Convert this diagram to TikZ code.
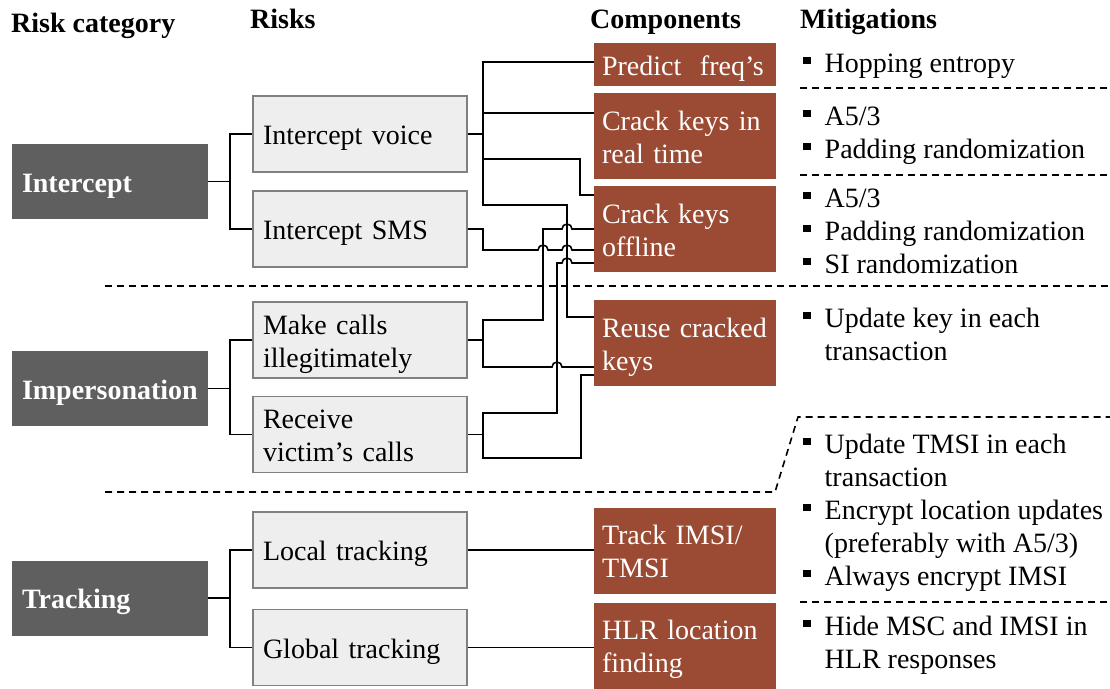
\documentclass[tikz,border=0pt]{standalone}
\usepackage{fontspec}
\setmainfont{Liberation Serif}
\usetikzlibrary{positioning}
\definecolor{catgray}{HTML}{5F5F5F}
\definecolor{riskfill}{HTML}{EEEEEE}
\definecolor{riskline}{HTML}{808080}
\definecolor{comprust}{HTML}{9B4B33}
\newcommand{\dgfont}{\fontsize{28}{33}\selectfont}
\newcommand{\sqb}{\rule[8pt]{7.5pt}{7.5pt}}
\tikzset{
  headtext/.style={
    anchor=base west,
    inner sep=0pt,
    font=\dgfont\bfseries
  },
  catbox/.style={
    fill=catgray,
    text=white,
    align=left,
    text width=176pt,
    minimum height=75pt,
    inner xsep=10pt,
    inner ysep=0pt,
    text height=21pt,
    text depth=0pt,
    font=\dgfont\bfseries
  },
  riskbox/.style={
    fill=riskfill,
    draw=riskline,
    line width=1.8pt,
    align=left,
    text width=194pt,
    minimum height=76pt,
    inner xsep=10pt,
    inner ysep=0pt,
    text height=21pt,
    text depth=0pt,
    font=\dgfont
  },
  compbox/.style={
    fill=comprust,
    text=white,
    align=left,
    text width=166pt,
    minimum height=86pt,
    inner xsep=8pt,
    inner ysep=0pt,
    text height=21pt,
    text depth=0pt,
    font=\dgfont
  },
  twoline/.style={
    text depth=33pt
  },
  mitlist/.style={
    anchor=base west,
    inner sep=0pt,
    font=\dgfont
  },
  wire/.style={
    line width=1.6pt
  },
  sepline/.style={
    line width=1.6pt,
    dash pattern=on 7pt off 5pt
  }
}

\begin{document}
\begin{tikzpicture}[x=1pt, y=-1pt]
  \useasboundingbox (0,0) rectangle (1110,688);

  % column heads
  \node[headtext] (hcat) at (11,32) {Risk category};
  \node[headtext] (hrisk) at (250,28) {Risks};
  \node[headtext] (hcomp) at (590,28) {Components};
  \node[headtext] (hmit) at (800,28) {Mitigations};

  % risk categories
  \node[catbox] (intercept) at (110,181.5) {Intercept};
  \node[catbox] (imperson) at (110,388.5) {Impersonation};
  \node[catbox] (tracking) at (110,598) {Tracking};

  % risks
  \node[riskbox] (voice) at (360,134) {Intercept voice};
  \node[riskbox] (sms) at (360,229) {Intercept SMS};
  \node[riskbox, twoline] (calls) at (360,340) {Make calls\\illegitimately};
  \node[riskbox, twoline] (receive) at (360,434.5) {Receive\\victim’s calls};
  \node[riskbox] (ltrack) at (360,550) {Local tracking};
  \node[riskbox] (gtrack) at (360,647.5) {Global tracking};

  % components
  \node[compbox, minimum height=43pt] (predict) at (685,64.5) {Predict\ \ freq’s};
  \node[compbox, twoline] (rtime) at (685,136) {Crack keys in\\real time};
  \node[compbox, twoline] (offline) at (685,229) {Crack keys\\offline};
  \node[compbox, twoline] (reuse) at (685,343) {Reuse cracked\\keys};
  \node[compbox, twoline] (trackid) at (685,550.5) {Track IMSI/\\TMSI};
  \node[compbox, twoline] (hlr) at (685,645.5) {HLR location\\finding};

  % mitigations
  \node[mitlist] (mpredict) at (803,72) {\begin{tabular}[t]{@{}l@{\hspace{14pt}}l@{}}
    \sqb & Hopping entropy\end{tabular}};
  \node[mitlist] (mrtime) at (803,125) {\begin{tabular}[t]{@{}l@{\hspace{14pt}}l@{}}
    \sqb & A5/3\\
    \sqb & Padding randomization\end{tabular}};
  \node[mitlist] (moffline) at (803,207) {\begin{tabular}[t]{@{}l@{\hspace{14pt}}l@{}}
    \sqb & A5/3\\
    \sqb & Padding randomization\\
    \sqb & SI randomization\end{tabular}};
  \node[mitlist] (mreuse) at (803,327) {\begin{tabular}[t]{@{}l@{\hspace{14pt}}l@{}}
    \sqb & Update key in each\\
         & transaction\end{tabular}};
  \node[mitlist] (mtrack) at (803,453) {\begin{tabular}[t]{@{}l@{\hspace{14pt}}l@{}}
    \sqb & Update TMSI in each\\
         & transaction\\
    \sqb & Encrypt location updates\\
         & (preferably with A5/3)\\
    \sqb & Always encrypt IMSI\end{tabular}};
  \node[mitlist] (mhlr) at (803,635) {\begin{tabular}[t]{@{}l@{\hspace{14pt}}l@{}}
    \sqb & Hide MSC and IMSI in\\
         & HLR responses\end{tabular}};

  % separators
  \draw[sepline] (800,88) -- (1110,88);
  \draw[sepline] (800,175) -- (1110,175);
  \draw[sepline] (105,286) -- (1110,286);
  \draw[sepline] (105,492) -- (775,492) -- (798,417) -- (1110,417);
  \draw[sepline] (800,602) -- (1110,602);

  % category to risks
  \draw[wire] (intercept.east) -- ++(22,0);
  \draw[wire] (voice.west) -| ([xshift=22pt]intercept.east) |- (sms.west);
  \draw[wire] (imperson.east) -- ++(22,0);
  \draw[wire] (calls.west) -| ([xshift=22pt]imperson.east) |- (receive.west);
  \draw[wire] (tracking.east) -- ++(22,0);
  \draw[wire] (ltrack.west) -| ([xshift=22pt]tracking.east) |- (gtrack.west);

  % risks to components
  \draw[wire] (voice.east) -- (483,134);
  \draw[wire] ([yshift=2.5pt]predict.west) -| (483,205) -- (567,205) -- (567,317)
    -- ([yshift=26pt]reuse.west);
  \draw[wire] (483,113) -- ([yshift=23pt]rtime.west);
  \draw[wire] (483,159) -| (580,195) -- ([yshift=34pt]offline.west);
  \draw[wire] (sms.east) -| (483,250) -- (538,250)
    arc[start angle=180, end angle=0, radius=5pt] -- (562,250)
    arc[start angle=180, end angle=0, radius=5pt] -- ([yshift=-21pt]offline.west);
  \draw[wire] (calls.east) -- (483,340);
  \draw[wire] (offline.west) -- (572,229)
    arc[start angle=0, end angle=180, radius=5pt] -- (543,229) -- (543,320)
    -- (483,320) -- (483,367) -- (552,367)
    arc[start angle=180, end angle=0, radius=5pt] -- ([yshift=-24pt]reuse.west);
  \draw[wire] (receive.east) -- (483,434.5);
  \draw[wire] ([yshift=-34pt]offline.west) -- (572,263)
    arc[start angle=0, end angle=180, radius=5pt] -- (557,263) -- (557,413)
    -- (483,413) -- (483,458) -- (581,458) -- (581,375)
    -- ([yshift=-32pt]reuse.west);
  \draw[wire] (ltrack.east) -- (ltrack.east -| trackid.west);
  \draw[wire] (gtrack.east) -- (gtrack.east -| hlr.west);
\end{tikzpicture}
\end{document}
